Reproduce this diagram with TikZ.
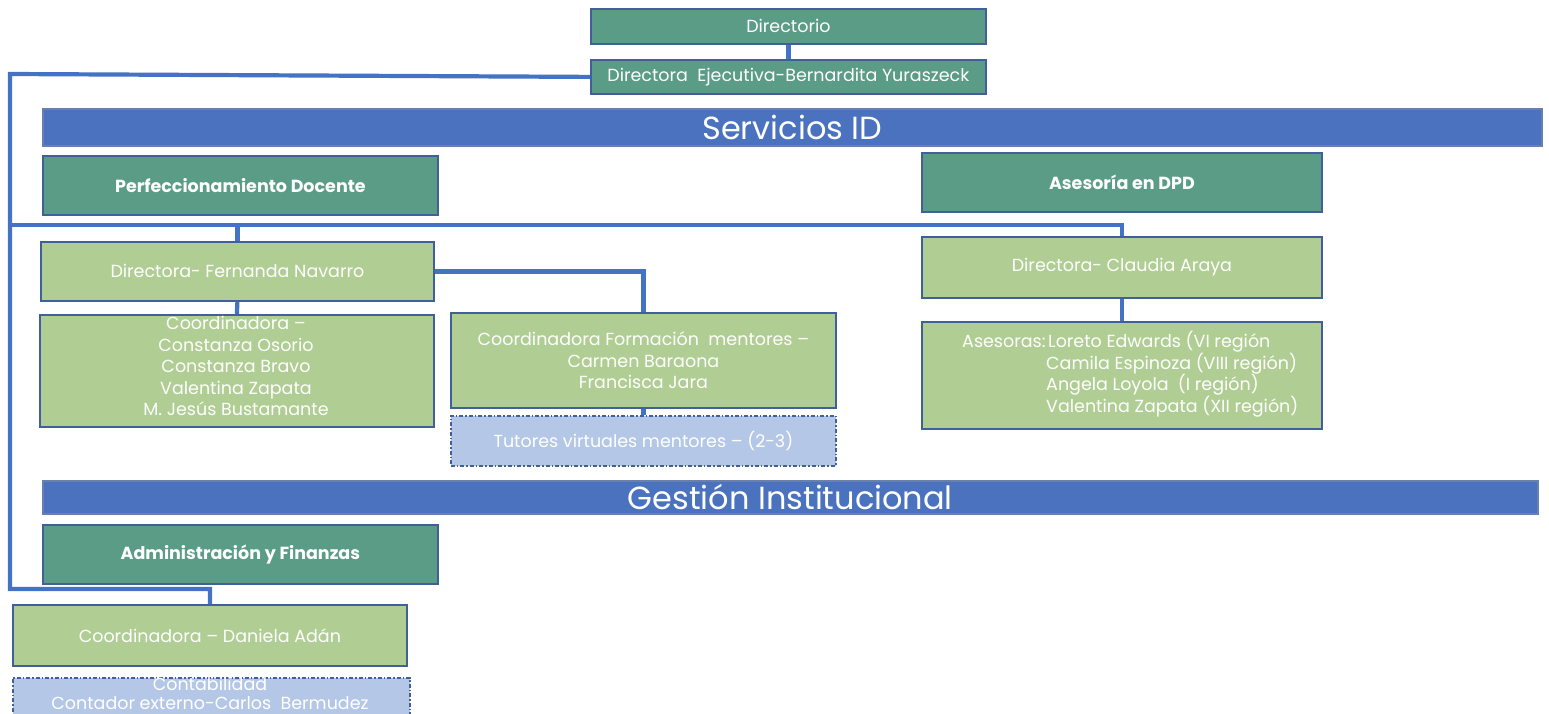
\documentclass[tikz,border=0pt]{standalone}
\usepackage{fontspec}
\setmainfont{Poppins}
\usetikzlibrary{positioning}
\definecolor{teal}{HTML}{5B9C86}
\definecolor{lgreen}{HTML}{B0CE94}
\definecolor{lblue}{HTML}{B4C7E7}
\definecolor{band}{HTML}{4A72BE}
\definecolor{edge}{HTML}{41609A}
\definecolor{conn}{HTML}{4472C4}
\tikzset{
  box/.style={draw=edge, line width=1.8pt, anchor=north west, inner sep=2pt, align=center, text=white, font=\fontsize{17.5}{21.5}\selectfont},
  label/.style={draw=none, fill=none, anchor=north, inner sep=0pt, align=center, text=white, font=\fontsize{17.5}{21.5}\selectfont},
  head/.style={box, fill=teal, font=\fontsize{17.5}{20}\selectfont\bfseries},
  top/.style={box, fill=teal},
  person/.style={box, fill=lgreen},
  extern/.style={box, fill=lblue, dash pattern=on 4pt off 2pt on 1.5pt off 2pt},
  banner/.style={draw=edge!80, line width=1.6pt, fill=band, anchor=north west, text=white, font=\fontsize{32}{36}\selectfont},
  link/.style={draw=conn, line width=4.2pt, line join=miter}
}
\begin{document}
\begin{tikzpicture}[x=1pt,y=-1pt]
\useasboundingbox (0,0) rectangle (1549,713);
\clip (0,0) rectangle (1549,713);
\coordinate (lx) at (10,74);
\coordinate (busy) at (10,225);
\coordinate (lowy) at (10,589);
% top
\node[top, minimum width=395pt, minimum height=35pt] (dir) at (590,8) {Directorio};
\node[top, minimum width=395pt, minimum height=34pt] (dej) at (590,59) {Directora\ \ Ejecutiva-Bernardita Yuraszeck};
% banners
\node[banner, minimum width=1499pt, minimum height=37pt] (sid) at (42,108) {Servicios ID};
\node[banner, minimum width=1495pt, minimum height=33pt] (gi) at (42,480) {Gestión Institucional};
% heads
\node[head, minimum width=395pt, minimum height=59pt] (pd) at (42,155) {Perfeccionamiento Docente};
\node[head, minimum width=400pt, minimum height=59pt] (dpd) at (921,152) {Asesoría en DPD};
\node[head, minimum width=395pt, minimum height=59pt] (af) at (42,524) {Administración y Finanzas};
% persons
\node[person, minimum width=393pt, minimum height=59pt] (fn) at (40,241) {Directora- Fernanda Navarro};
\node[person, minimum width=394pt, minimum height=112pt] (co) at (39,314) {};
\node[label] (cot) at (236,316) {Coordinadora –\\Constanza Osorio\\Constanza Bravo\\Valentina Zapata\\M. Jesús Bustamante};
\node[person, minimum width=385pt, minimum height=95pt] (cfm) at (450,312) {Coordinadora Formación\ \ mentores –\\Carmen Baraona\\Francisca Jara};
\node[extern, minimum width=385pt, minimum height=50pt] (tv) at (450,415) {Tutores virtuales mentores – (2-3)};
\node[person, minimum width=400pt, minimum height=61pt] (ca) at (921,236) {Directora- Claudia Araya};
\node[person, minimum width=400pt, minimum height=107pt] (as) at (921,321) {};
\node[label, anchor=north west, align=left] (ast) at (962,331) {\makebox[86pt][l]{Asesoras:}Loreto Edwards (VI región\\\hspace*{84pt}Camila Espinoza (VIII región)\\\hspace*{84pt}Angela Loyola\ \ (I región)\\\hspace*{84pt}Valentina Zapata (XII región)};
\node[person, minimum width=394pt, minimum height=61pt] (da) at (12,604) {Coordinadora – Daniela Adán};
\node[extern, minimum width=397pt, minimum height=50pt, inner sep=0pt] (cb) at (12,677) {};
\node[label, anchor=south, font=\fontsize{17.5}{19.5}\selectfont] (cbt) at (210,710) {Contabilidad\\Contador externo-Carlos\ \ Bermudez};
% connectors
\draw[link] (dir.south) -- (dej.north);
\draw[link] (dej.west) -- (lx) -- (lowy) -| (da.north);
\draw[link] (busy) -| (ca.north);
\draw[link] (busy -| fn.north) -- (fn.north);
\draw[link] (fn.south) -- (co.north);
\draw[link] (fn.east) -| (cfm.north);
\draw[link] (cfm.south) -- (tv.north);
\draw[link] (ca.south) -- (as.north);
\end{tikzpicture}
\end{document}
